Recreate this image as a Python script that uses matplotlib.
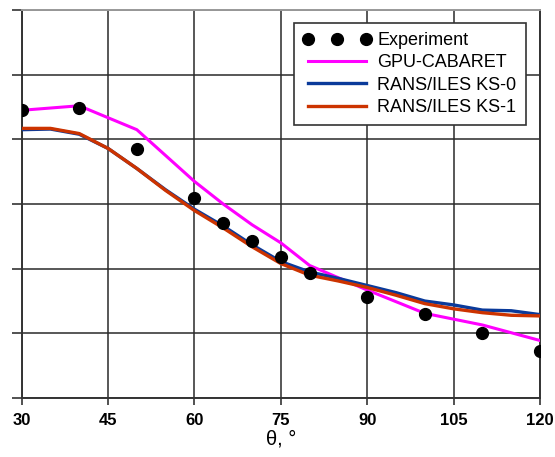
import matplotlib
matplotlib.use("Agg")
import matplotlib.pyplot as plt

theta_exp = [30, 40, 50, 60, 65, 70, 75, 80, 90, 100, 110, 120]
exp_vals = [4.45, 4.48, 3.85, 3.10, 2.70, 2.43, 2.18, 1.94, 1.57, 1.30, 1.00, 0.73]

theta_gpu = [30, 40, 50, 60, 65, 70, 75, 80, 90, 100, 110, 120]
gpu_vals = [4.45, 4.52, 4.15, 3.35, 3.00, 2.68, 2.40, 2.05, 1.67, 1.31, 1.13, 0.89]

theta_rans = [30, 35, 40, 45, 50, 55, 60, 65, 70, 75, 80, 85, 90, 95, 100, 105, 110, 115, 120]
ks0_vals = [4.15, 4.16, 4.08, 3.86, 3.55, 3.22, 2.92, 2.66, 2.37, 2.11, 1.95, 1.85, 1.74, 1.63, 1.50, 1.44, 1.36, 1.35, 1.29]
ks1_vals = [4.17, 4.17, 4.09, 3.86, 3.55, 3.21, 2.90, 2.63, 2.34, 2.08, 1.90, 1.81, 1.71, 1.59, 1.46, 1.38, 1.32, 1.28, 1.27]

xticks = [30, 45, 60, 75, 90, 105, 120]
yticks = [0, 1, 2, 3, 4, 5, 6]

plt.rcParams['font.family'] = ['Liberation Sans', 'DejaVu Sans']

fig = plt.figure(figsize=(5.55, 4.57), dpi=100)
ax = fig.add_axes([0.039, 0.129, 0.934, 0.849])

ax.plot(theta_gpu, gpu_vals, color='#ff00ff', lw=2.2, label='GPU-CABARET', zorder=3)
ax.plot(theta_rans, ks0_vals, color='#0a3a9a', lw=2.4, label='RANS/ILES KS-0', zorder=3)
ax.plot(theta_rans, ks1_vals, color='#cc3300', lw=2.4, label='RANS/ILES KS-1', zorder=4)
ax.plot(theta_exp, exp_vals, 'o', color='black', ms=8.5, ls='none', label='Experiment', zorder=5)

ax.set_xlim(30, 120)
ax.set_ylim(0, 6)
ax.set_xticks(xticks)
ax.set_yticks(yticks)
ax.set_yticklabels([])
ax.set_xticklabels([str(t) for t in xticks], fontweight='bold', fontsize=12)
ax.tick_params(axis='y', length=7, width=1.2, color='#333333', direction='out')
ax.tick_params(axis='x', length=5, width=1.2, color='#333333', direction='out', pad=6)
ax.grid(True, color='#2a2a2a', lw=1.1)
ax.set_axisbelow(True)
for s in ['left', 'bottom', 'right']:
    ax.spines[s].set_color('#333333')
    ax.spines[s].set_linewidth(1.4)
ax.spines['top'].set_color('#999999')
ax.spines['top'].set_linewidth(1.4)

ax.set_xlabel('θ, °', fontsize=14.5, labelpad=1)

handles, labels = ax.get_legend_handles_labels()
order = [3, 0, 1, 2]
leg = ax.legend([handles[i] for i in order], [labels[i] for i in order],
                loc='upper right', bbox_to_anchor=(0.972, 0.967), numpoints=3,
                fontsize=13, frameon=True, fancybox=False, edgecolor='#333333',
                framealpha=1, handlelength=3.8, handletextpad=0.33,
                labelspacing=0.3, borderpad=0.5, borderaxespad=0)
leg.get_frame().set_linewidth(1.2)

fig.savefig('out.png', dpi=100)
